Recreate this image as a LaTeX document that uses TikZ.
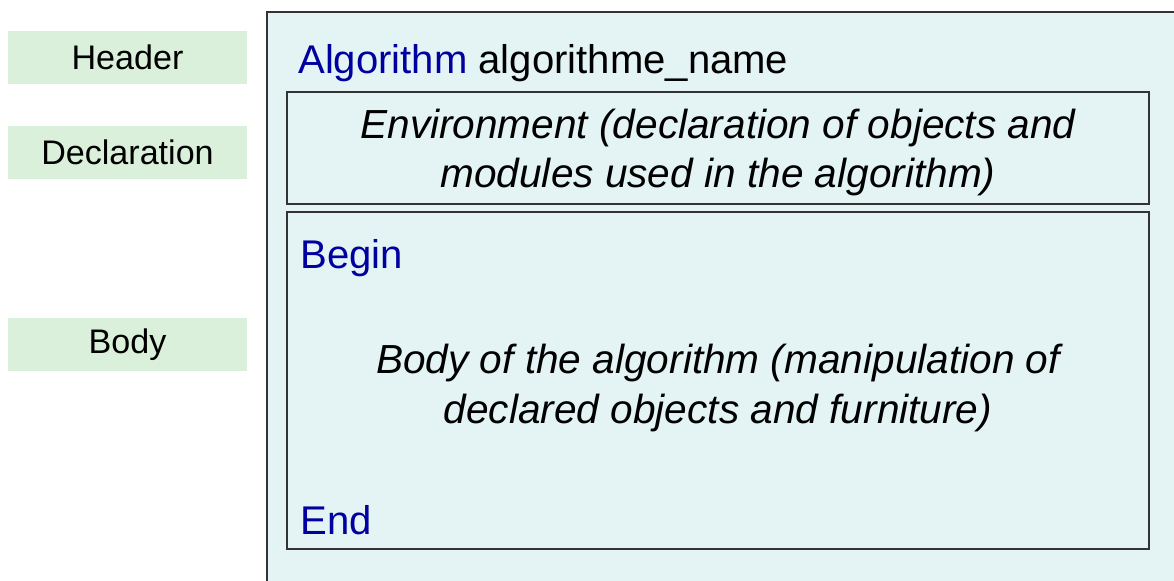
\documentclass[tikz,border=0pt]{standalone}
\usepackage{fontspec}
\setmainfont{Liberation Sans}
\usepackage{xcolor}
\definecolor{labelgreen}{HTML}{DAF0DA}
\definecolor{algobg}{HTML}{E4F4F4}
\definecolor{kwblue}{HTML}{0000A0}
\definecolor{boxline}{HTML}{333333}

\tikzset{
  partlabel/.style={fill=labelgreen, minimum width=4.78cm, minimum height=1.06cm,
    inner sep=0pt, font=\fontsize{19.4}{23}\selectfont},
  algobox/.style={draw=boxline, line width=0.9pt, inner sep=0pt},
  keyword/.style={text=kwblue, inner sep=0pt, font=\fontsize{22.8}{27}\selectfont},
  bodytext/.style={align=center, inner sep=0pt,
    font=\fontsize{23.1}{28.4}\selectfont\itshape}
}

\begin{document}
\begin{tikzpicture}
    \useasboundingbox (0,0) rectangle (23.48,-11.6);

    % Labels on the left
    \node[partlabel] (header) at (2.55,-1.15) {Header};
    \node[partlabel] (decl) at (2.55,-3.05) {Declaration};
    \node[partlabel] (body) at (2.55,-6.89) {Body};

    % Outer frame (cut by the page)
    \draw[fill=algobg, draw=boxline, line width=0.9pt] (5.34,-0.24) rectangle (23.8,-12);

    % Header line
    \node[keyword, anchor=base west] (algo) at (5.96,-1.46)
      {Algorithm \textcolor{black}{algorithme\_name}};

    % Environment box
    \node[algobox, minimum width=17.24cm, minimum height=2.24cm] (env) at (14.36,-2.96) {};
    \node[bodytext] (envtext) at (14.36,-3.05)
      {Environment (declaration of objects and\\modules used in the algorithm)};

    % Body box
    \node[algobox, minimum width=17.24cm, minimum height=6.74cm] (main) at (14.36,-7.61) {};
    \node[keyword, anchor=base west] (begin) at (6.0,-5.36) {Begin};
    \node[bodytext] (maintext) at (14.36,-7.76)
      {Body of the algorithm (manipulation of\\declared objects and furniture)};
    \node[keyword, anchor=base west] (end) at (6.0,-10.68) {End};

  \end{tikzpicture}
\end{document}
